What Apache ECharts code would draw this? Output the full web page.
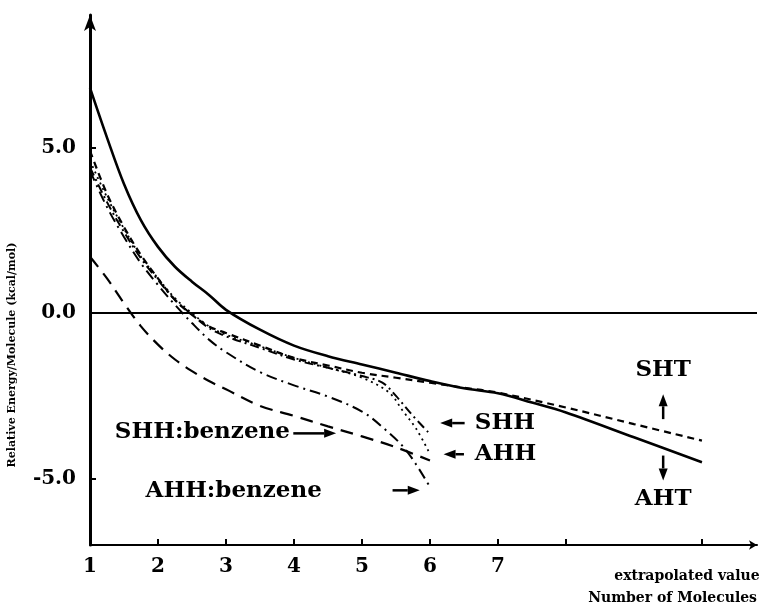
<!DOCTYPE html>
<html><head><meta charset="utf-8">
<script src="https://cdn.jsdelivr.net/npm/echarts@6/dist/echarts.min.js"></script>
<style>html,body{margin:0;padding:0;background:#fff}#c{width:763px;height:609px}</style>
</head><body><div id="c"></div>
<script>
// AHT (solid)
const ahtX = [1,1.25,1.5,1.75,2,2.25,2.5,2.75,3,3.5,4,4.5,5,5.5,6,6.5,7,7.5,8,9,10];
const ahtY = [6.8,5.3,3.9,2.8,2.0,1.4,0.95,0.55,0.1,-0.5,-0.98,-1.3,-1.55,-1.8,-2.05,-2.27,-2.42,-2.7,-3.0,-3.75,-4.5];
// SHT (short dashes)
const shtX = [1,1.25,1.5,1.75,2,2.25,2.5,2.75,3,3.5,4,4.5,5,5.5,6,6.5,7,8,9,10];
const shtY = [4.9,3.6,2.6,1.75,1.05,0.4,-0.05,-0.4,-0.6,-0.98,-1.35,-1.58,-1.8,-1.95,-2.1,-2.25,-2.4,-2.85,-3.35,-3.85];
// SHH (dash-dot)
const shhX = [1,1.25,1.5,1.75,2,2.25,2.5,2.75,3,3.5,4,4.5,5,5.3,5.5,5.75,6];
const shhY = [4.4,3.35,2.45,1.65,1.0,0.4,-0.05,-0.45,-0.7,-1.05,-1.4,-1.65,-1.9,-2.1,-2.5,-3.1,-3.65];
// AHH (dotted)
const ahhX = [1,1.25,1.5,1.75,2,2.25,2.5,2.75,3,3.5,4,4.5,5,5.4,5.6,5.8,6];
const ahhY = [4.6,3.5,2.55,1.7,1.05,0.45,0.0,-0.4,-0.65,-1.0,-1.35,-1.65,-1.95,-2.4,-2.95,-3.5,-4.25];
// AHH:benzene (dash-dot, long)
const ahhBzX = [1,1.25,1.5,1.75,2,2.25,2.5,2.75,3,3.5,4,4.5,5,5.3,5.65,6];
const ahhBzY = [4.3,3.2,2.3,1.5,0.85,0.25,-0.3,-0.8,-1.18,-1.78,-2.18,-2.52,-2.97,-3.44,-4.14,-5.25];
// SHH:benzene (long dashes)
const shhBzX = [1,1.25,1.5,1.75,2,2.25,2.5,2.75,3,3.5,4,4.5,5,5.5,6];
const shhBzY = [1.7,1.05,0.3,-0.4,-0.95,-1.4,-1.75,-2.05,-2.3,-2.8,-3.1,-3.42,-3.72,-4.05,-4.45];

const xTickLabels = [1,2,3,4,5,6,7];
const xTickMarks = [2,3,4,5,6,7,8,10];
const extrapolatedAt = 10;
const yTickValues = [-5,0,5];

const labelTexts = ['SHT','AHT','SHH','AHH','SHH:benzene','AHH:benzene'];
const labelX = [9.43,9.43,6.66,6.66,3.94,4.41];
const labelY = [-1.72,-5.6,-3.32,-4.26,-3.6,-5.38];
const labelAlign = ['center','center','left','left','right','right'];
const arrowFrom = [[9.43,-3.2],[9.43,-4.3],[6.51,-3.32],[6.5,-4.26],[3.99,-3.63],[5.45,-5.35]];
const arrowTo = [[9.43,-2.45],[9.43,-5.05],[6.15,-3.32],[6.2,-4.26],[4.62,-3.63],[5.85,-5.35]];

const zip = (xs, ys) => xs.map((x, i) => [x, ys[i]]);
const FONT = 'DejaVu Serif';

function line(name, xs, ys, type, width) {
  return {
    name, type: 'line', data: zip(xs, ys), smooth: 0.35, showSymbol: false,
    lineStyle: { color: '#000', width: width, type: type }, z: 3
  };
}

const chart = echarts.init(document.getElementById('c'), null, { renderer: 'canvas' });
const series = [
  line('AHT', ahtX, ahtY, 'solid', 2.6),
  line('SHT', shtX, shtY, [7, 5], 2.2),
  line('SHH', shhX, shhY, [9, 4, 2, 4], 2),
  line('AHH', ahhX, ahhY, [2, 4], 1.8),
  line('AHH:benzene', ahhBzX, ahhBzY, [11, 5, 2, 5], 2),
  line('SHH:benzene', shhBzX, shhBzY, [13, 8], 2.2)
];
series[0].markLine = {
  silent: true, symbol: 'none', label: { show: false },
  lineStyle: { color: '#000', width: 2, type: 'solid' },
  data: [{ yAxis: 0 }]
};

chart.setOption({
  backgroundColor: '#fff',
  animation: false,
  grid: { left: 90, right: 6, top: 15, bottom: 64, containLabel: false, outerBoundsMode: 'none' },
  xAxis: {
    type: 'value', min: 1, max: 10.81,
    name: 'Number of Molecules', nameLocation: 'end', nameGap: 0,
    nameTextStyle: { fontFamily: FONT, fontWeight: 'bold', fontSize: 14, color: '#000',
      align: 'right', verticalAlign: 'top', padding: [46, 0, 0, 0] },
    axisLine: { show: true, onZero: false, symbol: ['none', 'arrow'], symbolSize: [7, 8],
      lineStyle: { color: '#000', width: 2 } },
    axisTick: { show: true, inside: true, length: 6, customValues: xTickMarks,
      lineStyle: { color: '#000', width: 2 } },
    axisLabel: { show: true, customValues: xTickLabels.concat([extrapolatedAt]), margin: 12,
      formatter: v => v === extrapolatedAt ? '{e|extrapolated value}' : String(v),
      fontFamily: FONT, fontWeight: 'bold', fontSize: 20, color: '#000', hideOverlap: false,
      rich: { e: { fontFamily: FONT, fontWeight: 'bold', fontSize: 14, color: '#000', padding: [12, 30, 0, 0] } } },
    splitLine: { show: false }
  },
  yAxis: {
    type: 'value', min: -7, max: 9,
    name: 'Relative Energy/Molecule (kcal/mol)', nameLocation: 'middle', nameGap: 72, nameRotate: 90,
    nameTextStyle: { fontFamily: FONT, fontWeight: 'bold', fontSize: 11, color: '#000', padding: [0, 150, 0, 0] },
    axisLine: { show: true, onZero: false, symbol: ['none', 'arrow'], symbolSize: [9, 16],
      lineStyle: { color: '#000', width: 3 } },
    axisTick: { show: true, inside: true, length: 6, customValues: yTickValues,
      lineStyle: { color: '#000', width: 2 } },
    axisLabel: { show: true, customValues: yTickValues, margin: 14,
      formatter: v => v.toFixed(1),
      fontFamily: FONT, fontWeight: 'bold', fontSize: 20, color: '#000' },
    splitLine: { show: false }
  },
  series
});

// annotations positioned in data coordinates
function px(p) { return chart.convertToPixel({ xAxisIndex: 0, yAxisIndex: 0 }, p); }
function arrowGraphic(a, b) {
  const p1 = px(a), p2 = px(b);
  const dx = p2[0] - p1[0], dy = p2[1] - p1[1];
  const L = Math.hypot(dx, dy), ux = dx / L, uy = dy / L;
  const hl = 12, hw = 4.5;
  const bx = p2[0] - ux * hl, by = p2[1] - uy * hl;
  return [
    { type: 'line', shape: { x1: p1[0], y1: p1[1], x2: bx, y2: by }, style: { stroke: '#000', lineWidth: 2.5 }, silent: true },
    { type: 'polygon', shape: { points: [[p2[0], p2[1]], [bx - uy * hw, by + ux * hw], [bx + uy * hw, by - ux * hw]] },
      style: { fill: '#000' }, silent: true }
  ];
}
const graphics = [];
labelTexts.forEach((t, i) => {
  const p = px([labelX[i], labelY[i]]);
  graphics.push({ type: 'text', x: p[0], y: p[1], silent: true,
    style: { text: t, fill: '#000', font: 'bold 23px "' + FONT + '"', textAlign: labelAlign[i], textVerticalAlign: 'middle' } });
  graphics.push(...arrowGraphic(arrowFrom[i], arrowTo[i]));
});
chart.setOption({ graphic: graphics });
</script>
</body></html>
